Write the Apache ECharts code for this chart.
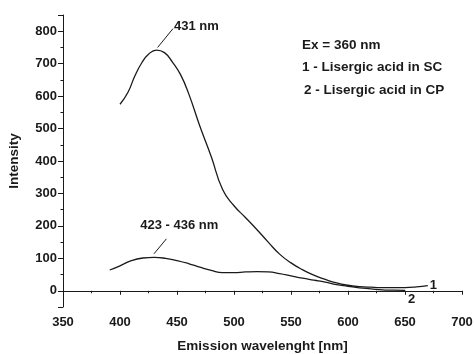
<!DOCTYPE html>
<html>
<head>
<meta charset="utf-8">
<script src="https://cdn.jsdelivr.net/npm/echarts@6/dist/echarts.min.js"></script>
<style>
html,body{margin:0;padding:0;background:#fff;}
#c{width:474px;height:354px;}
</style>
</head>
<body>
<div id="c"></div>
<script>
// Curve 1: Lisergic acid in SC
const wl1 = [400, 407, 413, 419, 425, 432, 439, 446, 453, 460, 470, 480, 490, 500, 510, 520, 530, 540, 550, 560, 570, 580, 590, 600, 610, 620, 630, 640, 650, 660, 670];
const int1 = [575, 612, 662, 702, 729, 742, 734, 705, 667, 610, 508, 414, 312, 262, 226, 189, 150, 113, 86, 65, 48, 35, 24, 17, 13, 11, 10, 10, 10, 12, 16];
// Curve 2: Lisergic acid in CP
const wl2 = [391, 400, 410, 420, 430, 440, 450, 460, 470, 480, 490, 500, 510, 520, 530, 540, 550, 560, 570, 580, 590, 600, 610, 620, 630, 640, 650];
const int2 = [64, 77, 93, 101, 103, 100, 93, 84, 73, 63, 56, 56, 58, 59, 58, 53, 46, 39, 33, 27, 19, 14, 9, 6, 3, 2, 1];

const xTitle = 'Emission wavelenght [nm]';
const yTitle = 'Intensity';
const legendLines = ['Ex = 360 nm', '1 - Lisergic acid in SC', '2 - Lisergic acid in CP'];
const peak1Label = '431 nm';
const peak2Label = '423 - 436 nm';
const peak1Text = [467, 815];
const peak1Arrow = [[446.5, 808], [433, 750]];
const peak2Text = [452, 200];
const peak2Arrow = [[440.7, 160], [429.8, 114]];

const FONT = '"Liberation Sans", Arial, sans-serif';
const INK = '#1a1a1a';

const toPairs = (xs, ys) => xs.map((x, i) => [x, ys[i]]);

const chart = echarts.init(document.getElementById('c'), null, {renderer: 'canvas'});

const textStyle = {fontFamily: FONT, fontWeight: 'bold', fontSize: 13, color: INK};

chart.setOption({
  animation: false,
  backgroundColor: '#fff',
  grid: {left: 63, right: 12, top: 15, bottom: 47, containLabel: false, outerBoundsMode: 'none'},
  xAxis: {
    type: 'value', min: 350, max: 700, interval: 50,
    name: xTitle, nameLocation: 'middle', nameGap: 32,
    nameTextStyle: Object.assign({}, textStyle, {fontSize: 13.5}),
    axisLine: {show: true, lineStyle: {color: INK, width: 1}},
    axisTick: {show: true, length: 4, lineStyle: {color: INK}},
    minorTick: {show: true, splitNumber: 2, length: 2.5, lineStyle: {color: INK}},
    axisLabel: Object.assign({margin: 9}, textStyle),
    splitLine: {show: false}
  },
  yAxis: {
    type: 'value', min: -50, max: 850, splitNumber: 9, minInterval: 100, maxInterval: 100,
    name: yTitle, nameLocation: 'middle', nameGap: 42, nameRotate: 90,
    nameTextStyle: Object.assign({}, textStyle, {fontSize: 13.5}),
    axisLine: {show: true, lineStyle: {color: INK, width: 1}},
    axisTick: {show: true, length: 5, lineStyle: {color: INK}},
    minorTick: {show: true, splitNumber: 2, length: 2.5, lineStyle: {color: INK}},
    axisLabel: Object.assign({margin: 6, formatter: v => (v < 0 || v > 800) ? '' : String(v)}, textStyle),
    splitLine: {show: false}
  },
  series: [
    {
      type: 'line', data: toPairs(wl1, int1), smooth: 0.5, showSymbol: false,
      lineStyle: {color: INK, width: 1.3},
      endLabel: {show: true, formatter: '1', distance: 2, fontFamily: FONT, fontWeight: 'bold', fontSize: 13, color: INK},
      markLine: {
        silent: true, symbol: ['none', 'arrow'], symbolSize: [0, 8],
        lineStyle: {color: INK, width: 1, type: 'solid'}, label: {show: false},
        data: [[{coord: peak1Arrow[0]}, {coord: peak1Arrow[1]}]]
      },
      markPoint: {
        silent: true, symbol: 'circle', symbolSize: 0,
        label: Object.assign({show: true, position: 'inside', formatter: peak1Label}, textStyle),
        data: [{coord: peak1Text}]
      }
    },
    {
      type: 'line', data: toPairs(wl2, int2), smooth: 0.5, showSymbol: false,
      lineStyle: {color: INK, width: 1.3},
      endLabel: {show: true, formatter: '2', distance: 0, offset: [3, 9], fontFamily: FONT, fontWeight: 'bold', fontSize: 13, color: INK},
      markLine: {
        silent: true, symbol: ['none', 'arrow'], symbolSize: [0, 8],
        lineStyle: {color: INK, width: 1, type: 'solid'}, label: {show: false},
        data: [[{coord: peak2Arrow[0]}, {coord: peak2Arrow[1]}]]
      },
      markPoint: {
        silent: true, symbol: 'circle', symbolSize: 0,
        label: Object.assign({show: true, position: 'inside', formatter: peak2Label}, textStyle),
        data: [{coord: peak2Text}]
      }
    }
  ],
  graphic: legendLines.map((t, i) => ({
    type: 'text', left: [302, 302, 304][i], top: [38, 60, 83][i],
    style: {text: t, font: 'bold 13.5px ' + FONT, fill: INK}
  }))
});
</script>
</body>
</html>
